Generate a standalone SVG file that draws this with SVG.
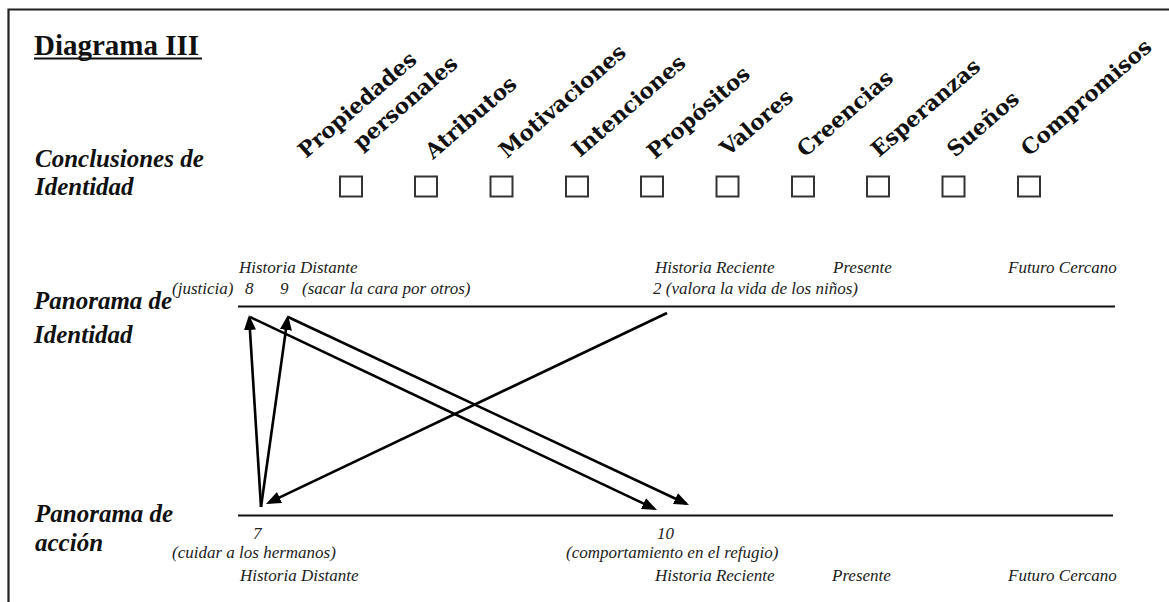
<svg xmlns="http://www.w3.org/2000/svg" width="1169" height="602" viewBox="0 0 1169 602">
<style>
.bi{font-family:"Liberation Serif","Times New Roman",serif;font-weight:bold;font-style:italic;font-size:25px;fill:#111}
.it{font-family:"Liberation Serif","Times New Roman",serif;font-style:italic;font-size:17px;fill:#222}
.rot{font-family:"DejaVu Serif",serif;font-weight:bold;font-size:21.5px;fill:#111}
.box{fill:#fff;stroke:#333;stroke-width:2}
.tl{stroke:#111;stroke-width:2;fill:none}
.arr{stroke:#000;stroke-width:2.6;fill:none;marker-end:url(#ah)}
</style>
<defs>
<marker id="ah" markerUnits="userSpaceOnUse" markerWidth="15" markerHeight="12" refX="12" refY="6" orient="auto">
<path d="M0,0 L15,6 L0,12 z" fill="#000"/>
</marker>
</defs>
<rect width="1169" height="602" fill="#fff"/>
<path d="M8.5,602 V9.5 H1169" fill="none" stroke="#222" stroke-width="2.2"/>

<g id="title">
<text x="34" y="55" font-family="'Liberation Serif','Times New Roman',serif" font-weight="bold" font-size="29" fill="#111">Diagrama III</text>
<line x1="34" y1="58.5" x2="202" y2="58.5" stroke="#111" stroke-width="2"/>
</g>

<g id="row-conclusiones">
<text class="bi" x="35" y="167">Conclusiones de</text>
<text class="bi" x="35" y="195">Identidad</text>
</g>

<g id="categorias">
<text class="rot" transform="translate(306,159) rotate(-41)">Propiedades</text>
<text class="rot" transform="translate(361,151) rotate(-41)">personales</text>
<text class="rot" transform="translate(433,160) rotate(-41)">Atributos</text>
<text class="rot" transform="translate(507,159) rotate(-41)">Motivaciones</text>
<text class="rot" transform="translate(580,158) rotate(-41)">Intenciones</text>
<text class="rot" transform="translate(655,160) rotate(-41)">Propósitos</text>
<text class="rot" transform="translate(728,157) rotate(-41)">Valores</text>
<text class="rot" transform="translate(805,158) rotate(-41)">Creencias</text>
<text class="rot" transform="translate(879,158) rotate(-41)">Esperanzas</text>
<text class="rot" transform="translate(955,158) rotate(-41)">Sueños</text>
<text class="rot" transform="translate(1029,157) rotate(-41)">Compromisos</text>
</g>

<g id="casillas">
<rect class="box" x="340" y="176.5" width="22" height="20"/>
<rect class="box" x="415" y="176.5" width="22" height="20"/>
<rect class="box" x="490.5" y="176.5" width="22" height="20"/>
<rect class="box" x="566" y="176.5" width="22" height="20"/>
<rect class="box" x="641" y="176.5" width="22" height="20"/>
<rect class="box" x="716.5" y="176.5" width="22" height="20"/>
<rect class="box" x="792" y="176.5" width="22" height="20"/>
<rect class="box" x="867" y="176.5" width="22" height="20"/>
<rect class="box" x="942.5" y="176.5" width="22" height="20"/>
<rect class="box" x="1018" y="176.5" width="22" height="20"/>
</g>

<g id="panorama-identidad">
<text class="bi" x="34" y="309">Panorama de</text>
<text class="bi" x="34" y="343">Identidad</text>
<line class="tl" x1="238" y1="306.5" x2="1115" y2="306.5"/>
<text class="it" x="239" y="273">Historia Distante</text>
<text class="it" x="655" y="273">Historia Reciente</text>
<text class="it" x="833" y="273">Presente</text>
<text class="it" x="1008" y="273">Futuro Cercano</text>
<text class="it" x="172" y="294">(justicia)</text>
<text class="it" x="245" y="294">8</text>
<text class="it" x="280" y="294">9</text>
<text class="it" x="302" y="294">(sacar la cara por otros)</text>
<text class="it" x="653" y="294">2 (valora la vida de los niños)</text>
</g>

<g id="panorama-accion">
<text class="bi" x="35" y="522">Panorama de</text>
<text class="bi" x="35" y="551">acción</text>
<line class="tl" x1="238" y1="515.5" x2="1113" y2="515.5"/>
<text class="it" x="253" y="539">7</text>
<text class="it" x="172" y="558">(cuidar a los hermanos)</text>
<text class="it" x="240" y="581">Historia Distante</text>
<text class="it" x="657" y="539">10</text>
<text class="it" x="566" y="558">(comportamiento en el refugio)</text>
<text class="it" x="655" y="581">Historia Reciente</text>
<text class="it" x="832" y="581">Presente</text>
<text class="it" x="1008" y="581">Futuro Cercano</text>
</g>

<g id="conectores">
<line class="arr" x1="261" y1="507" x2="249.2" y2="318"/>
<line class="arr" x1="261" y1="507" x2="287.6" y2="318"/>
<line class="arr" x1="667" y1="313" x2="268.7" y2="502.7"/>
<line class="arr" x1="250" y1="317" x2="654.3" y2="508.7"/>
<line class="arr" x1="288" y1="317" x2="686.3" y2="503.7"/>
</g>
</svg>
